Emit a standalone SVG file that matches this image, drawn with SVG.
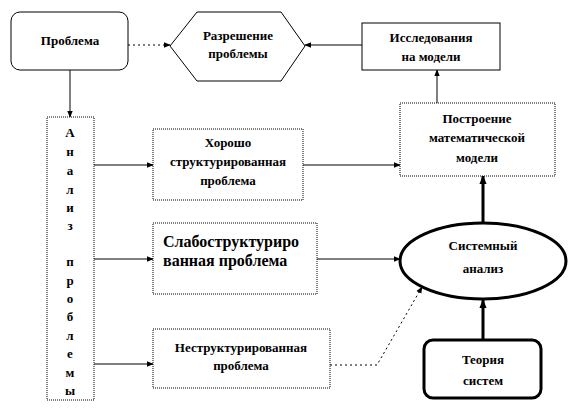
<svg xmlns="http://www.w3.org/2000/svg" width="578" height="409" viewBox="0 0 578 409">
<defs>
<marker id="ah" viewBox="0 0 10 10" refX="9" refY="5" markerWidth="7" markerHeight="7" markerUnits="userSpaceOnUse" orient="auto"><path d="M0,1 L10,5 L0,9 Z" fill="#000"/></marker>
<marker id="ahb" viewBox="0 0 10 10" refX="9" refY="5" markerWidth="9" markerHeight="9" markerUnits="userSpaceOnUse" orient="auto"><path d="M0,1 L10,5 L0,9 Z" fill="#000"/></marker>
</defs>
<style>
text{font-family:"Liberation Serif","Times New Roman",serif;font-weight:bold;font-size:13px;fill:#000;text-anchor:middle}
.box{fill:#fff;stroke:#000;stroke-width:1}
.dot{fill:#fff;stroke:#000;stroke-width:1;stroke-dasharray:1 1}
.thick{fill:#fff;stroke:#000;stroke-width:3}
.ln{fill:none;stroke:#000;stroke-width:1}
.dl{fill:none;stroke:#000;stroke-width:1;stroke-dasharray:2 3}
.tl{fill:none;stroke:#000;stroke-width:3}
.big{font-size:16px;text-anchor:start}
</style>
<rect width="578" height="409" fill="#fff"/>
<g id="connectors">
<path class="dl" d="M128,45 H170" marker-end="url(#ah)"/>
<path class="ln" d="M362,45 H305" marker-end="url(#ah)"/>
<path class="ln" d="M437,105 V70" marker-end="url(#ah)"/>
<path class="ln" d="M70,70 V117" marker-end="url(#ah)"/>
<path class="ln" d="M94,165 H153" marker-end="url(#ah)"/>
<path class="ln" d="M94,259 H153" marker-end="url(#ah)"/>
<path class="ln" d="M94,364 H153" marker-end="url(#ah)"/>
<path class="ln" d="M303,165 H400" marker-end="url(#ah)"/>
<path class="ln" d="M317,259 H400" marker-end="url(#ah)"/>
<path class="dl" d="M330,365 H377 L422,287" marker-end="url(#ah)"/>
<path class="tl" d="M483,223 V176" marker-end="url(#ahb)"/>
<path class="tl" d="M483,340 V300" marker-end="url(#ahb)"/>
</g>
<g id="problem">
<rect class="box" x="11" y="12" width="117" height="58" rx="9"/>
<text x="70" y="45">Проблема</text>
</g>
<g id="resolution">
<polygon class="box" points="170,46 197,12 281,12 305,46 281,81 197,81"/>
<text x="238" y="40">Разрешение</text>
<text x="238" y="58">проблемы</text>
</g>
<g id="research">
<rect class="box" x="362" y="23" width="138" height="47"/>
<text x="431" y="42">Исследования</text>
<text x="431" y="61">на модели</text>
</g>
<g id="model">
<rect class="dot" x="400" y="103" width="155" height="73"/>
<text x="477" y="123">Построение</text>
<text x="477" y="142">математической</text>
<text x="477" y="162">модели</text>
</g>
<g id="analysis">
<rect class="dot" x="47" y="117" width="47" height="283"/>
<text x="70" y="137" font-size="14">А</text>
<text x="70" y="156">н</text>
<text x="70" y="175">а</text>
<text x="70" y="194">л</text>
<text x="70" y="212">и</text>
<text x="70" y="230">з</text>
<text x="70" y="266">п</text>
<text x="70" y="285">р</text>
<text x="70" y="303">о</text>
<text x="70" y="321">б</text>
<text x="70" y="340">л</text>
<text x="70" y="358">е</text>
<text x="70" y="377">м</text>
<text x="70" y="395">ы</text>
</g>
<g id="well">
<rect class="dot" x="153" y="129" width="150" height="71"/>
<text x="228" y="147">Хорошо</text>
<text x="228" y="166">структурированная</text>
<text x="228" y="185">проблема</text>
</g>
<g id="weak">
<rect class="dot" x="153" y="223" width="164" height="71"/>
<text class="big" x="163" y="247">Слабоструктуриро</text>
<text class="big" x="163" y="266">ванная проблема</text>
</g>
<g id="unstructured">
<rect class="dot" x="153" y="329" width="177" height="59"/>
<text x="241" y="352">Неструктурированная</text>
<text x="241" y="370">проблема</text>
</g>
<g id="sysanalysis">
<ellipse class="thick" cx="483" cy="261" rx="83" ry="38"/>
<text x="483" y="250" font-size="14">Системный</text>
<text x="483" y="273">анализ</text>
</g>
<g id="theory">
<rect class="thick" x="424" y="340" width="117" height="58" rx="9"/>
<text x="483" y="364" font-size="14">Теория</text>
<text x="483" y="385">систем</text>
</g>
</svg>
